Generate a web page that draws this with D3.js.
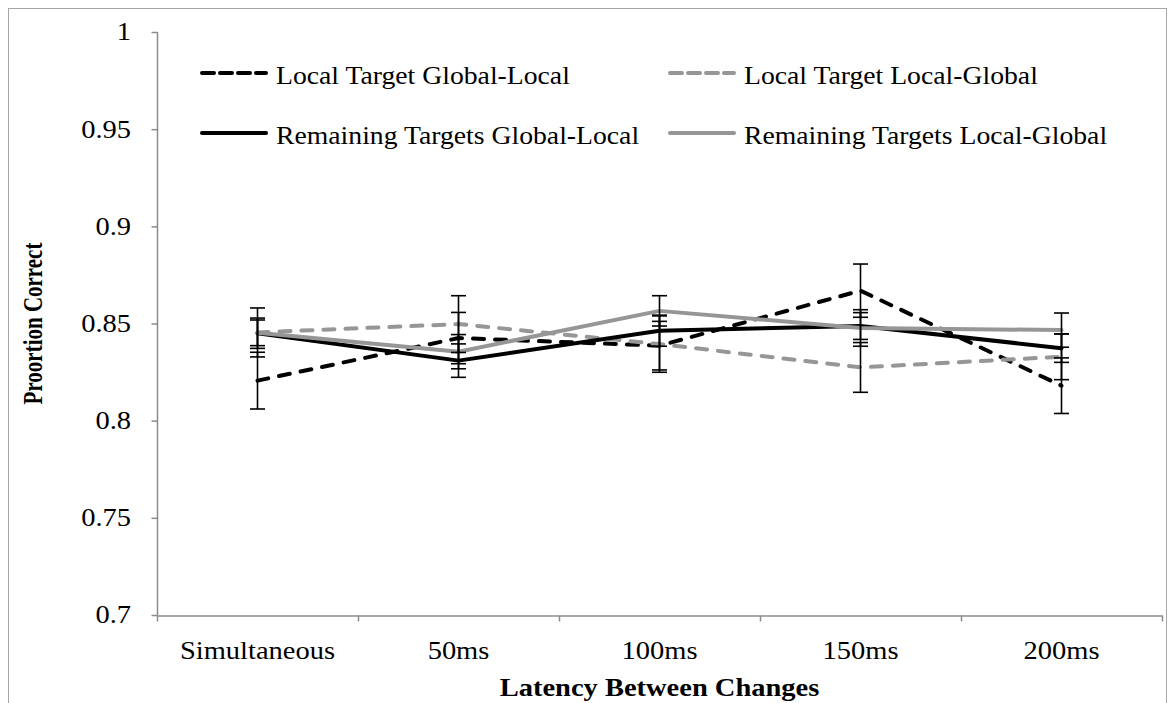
<!DOCTYPE html>
<html>
<head>
<meta charset="utf-8">
<script src="https://cdn.jsdelivr.net/npm/d3@7"></script>
<style>
  html, body { margin: 0; padding: 0; background: #fff; }
  svg { display: block; }
  text { font-family: "Liberation Serif", "Times New Roman", serif; fill: #000; }
</style>
</head>
<body>
<svg id="chart" width="1175" height="703"></svg>
<script>
// Latency conditions along the x axis
const categories = ["Simultaneous", "50ms", "100ms", "150ms", "200ms"];

// Proportion correct per condition, with error-bar half widths
const localTargetGlobalLocal      = [0.8206, 0.8425, 0.8386, 0.8669, 0.8180];
const localTargetGlobalLocalErr   = [0.0146, 0.0132, 0.0125, 0.0137, 0.0143];
const localTargetLocalGlobal      = [0.8454, 0.8497, 0.8394, 0.8274, 0.8329];
const localTargetLocalGlobalErr   = [0.0126, 0.0146, 0.0145, 0.0128, 0.0118];
const remainingGlobalLocal        = [0.8450, 0.8309, 0.8463, 0.8487, 0.8373];
const remainingGlobalLocalErr     = [0.0078, 0.0086, 0.0080, 0.0069, 0.0073];
const remainingLocalGlobal        = [0.8452, 0.8355, 0.8565, 0.8477, 0.8466];
const remainingLocalGlobalErr     = [0.0066, 0.0088, 0.0078, 0.0094, 0.0088];

const yTicks = [0.7, 0.75, 0.8, 0.85, 0.9, 0.95, 1];
const yTickLabels = ["0.7", "0.75", "0.8", "0.85", "0.9", "0.95", "1"];

const seriesNames = [
  "Local Target Global-Local",
  "Local Target Local-Global",
  "Remaining Targets Global-Local",
  "Remaining Targets Local-Global"
];

const BLACK = "#000000";
const GREY = "#969696";
const AXIS = "#8c8c8c";
const DASH = "11,11";

const series = [
  { name: seriesNames[0], values: localTargetGlobalLocal, err: localTargetGlobalLocalErr, color: BLACK, dash: DASH },
  { name: seriesNames[1], values: localTargetLocalGlobal, err: localTargetLocalGlobalErr, color: GREY,  dash: DASH },
  { name: seriesNames[2], values: remainingGlobalLocal,   err: remainingGlobalLocalErr,   color: BLACK, dash: null },
  { name: seriesNames[3], values: remainingLocalGlobal,   err: remainingLocalGlobalErr,   color: GREY,  dash: null }
];

const svg = d3.select("#chart");
const TEXT_SX = 1.14; // horizontal stretch applied to all labels

// outer chart frame
svg.append("rect")
  .attr("x", 8.5).attr("y", 8.5)
  .attr("width", 1158).attr("height", 760)
  .attr("fill", "none").attr("stroke", "#a6a6a6").attr("stroke-width", 1);

const plot = { left: 157, right: 1162, top: 32, bottom: 615 };

const x = d3.scaleBand().domain(categories).range([plot.left, plot.right]).padding(0);
const y = d3.scaleLinear().domain([0.7, 1]).range([plot.bottom, plot.top]);
const cx = d => x(d) + x.bandwidth() / 2;

function label(g, tx, ty, str, opts = {}) {
  const t = g.append("g")
    .attr("transform", `translate(${tx},${ty}) scale(${opts.sx || TEXT_SX},1)`)
    .append("text")
    .attr("text-anchor", opts.anchor || "start")
    .attr("font-size", opts.size || 24)
    .text(str);
  if (opts.bold) t.attr("font-weight", "bold");
  if (opts.baseline) t.attr("dominant-baseline", opts.baseline);
  return t;
}

// y axis
const yAxis = svg.append("g")
  .attr("transform", `translate(${plot.left + 0.5},0)`)
  .call(d3.axisLeft(y).tickValues(yTicks).tickSize(6).tickFormat(""));
yAxis.select(".domain").attr("stroke", AXIS).attr("stroke-width", 1.5).attr("d", `M0,${plot.top}V${plot.bottom}`);
yAxis.selectAll(".tick line").attr("stroke", AXIS).attr("stroke-width", 1.5);
yTicks.forEach((v, i) => {
  label(svg, 131, y(v), yTickLabels[i], { anchor: "end", size: 25, baseline: "central" });
});

// x axis: line with tick marks on the category boundaries
const boundaries = categories.map(c => x(c)).concat([plot.right]);
const xAxis = svg.append("g")
  .attr("transform", `translate(0,${plot.bottom + 0.5})`)
  .call(d3.axisBottom(d3.scaleLinear().domain([plot.left, plot.right]).range([plot.left, plot.right]))
    .tickValues(boundaries).tickSize(6).tickSizeOuter(0).tickFormat(""));
xAxis.select(".domain").attr("stroke", AXIS).attr("stroke-width", 1.5);
xAxis.selectAll(".tick line").attr("stroke", AXIS).attr("stroke-width", 1.5);
categories.forEach(c => {
  label(svg, cx(c), 659, c, { anchor: "middle", size: 25 });
});

// axis titles
label(svg, (plot.left + plot.right) / 2, 696, "Latency Between Changes", { anchor: "middle", size: 25, bold: true });
svg.append("g")
  .attr("transform", `translate(42,${(plot.top + plot.bottom) / 2}) rotate(-90) scale(1,1.3)`)
  .append("text").attr("text-anchor", "middle").attr("font-size", 21).attr("font-weight", "bold")
  .text("Proortion Correct");

// series lines
const line = d3.line().x((d, i) => cx(categories[i])).y(d => y(d));
series.forEach(s => {
  svg.append("path")
    .datum(s.values)
    .attr("d", line)
    .attr("fill", "none")
    .attr("stroke", s.color)
    .attr("stroke-width", 4)
    .attr("stroke-linecap", "round")
    .attr("stroke-linejoin", "round")
    .attr("stroke-dasharray", s.dash);
});

// error bars
const capHalf = 7.5;
series.forEach(s => {
  const g = svg.append("g").attr("stroke", BLACK).attr("stroke-width", 1.6);
  s.values.forEach((v, i) => {
    const px = cx(categories[i]);
    const hi = y(v + s.err[i]), lo = y(v - s.err[i]);
    g.append("line").attr("x1", px).attr("x2", px).attr("y1", hi).attr("y2", lo);
    g.append("line").attr("x1", px - capHalf).attr("x2", px + capHalf).attr("y1", hi).attr("y2", hi);
    g.append("line").attr("x1", px - capHalf).attr("x2", px + capHalf).attr("y1", lo).attr("y2", lo);
  });
});

// legend: two rows, two columns
const legendPos = [
  { x: 200, y: 73 }, { x: 668, y: 73 },
  { x: 200, y: 133 }, { x: 668, y: 133 }
];
series.forEach((s, i) => {
  const p = legendPos[i];
  svg.append("line")
    .attr("x1", p.x + 2).attr("x2", p.x + 66)
    .attr("y1", p.y).attr("y2", p.y)
    .attr("stroke", s.color).attr("stroke-width", 4)
    .attr("stroke-linecap", "round")
    .attr("stroke-dasharray", s.dash ? "12,6" : null);
  label(svg, p.x + 76, p.y + 11, s.name, { size: 24.3 });
});
</script>
</body>
</html>
